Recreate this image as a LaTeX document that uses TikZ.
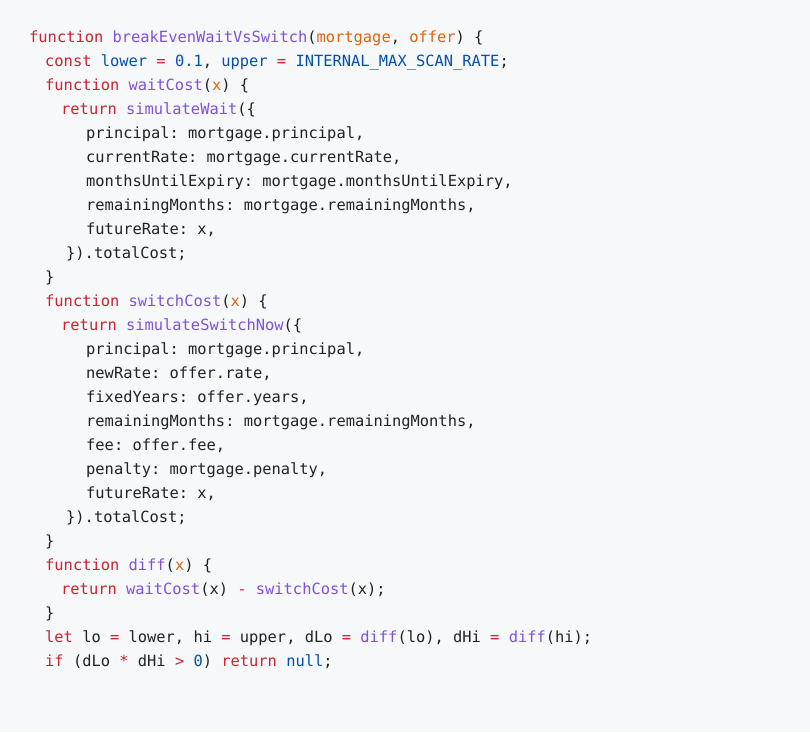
\documentclass[tikz,border=0pt]{standalone}
\usepackage{fontspec}
\setmonofont{DejaVu Sans Mono}
\definecolor{bg}{HTML}{F6F8FA}
\definecolor{tx}{HTML}{1F2328}
\definecolor{kw}{HTML}{CF222E}
\definecolor{fn}{HTML}{8250DF}
\definecolor{pa}{HTML}{E36209}
\definecolor{cn}{HTML}{0550AE}
\newcommand\K[1]{\textcolor{kw}{#1}}
\newcommand\F[1]{\textcolor{fn}{#1}}
\newcommand\PA[1]{\textcolor{pa}{#1}}
\newcommand\C[1]{\textcolor{cn}{#1}}
\begin{document}
\begin{tikzpicture}[x=1pt,y=-1pt,
  ln/.style={anchor=base west,inner sep=0pt,text=tx,font=\ttfamily\fontsize{15.4}{18}\selectfont}]
\fill[bg] (0,0) rectangle (810,732);
\useasboundingbox (0,0) rectangle (810,732);
\node[ln] (l1) at (29,42) {\K{function} \F{breakEvenWaitVsSwitch}(\PA{mortgage}, \PA{offer}) \{};
\node[ln] (l2) at (45,66) {\K{const} \C{lower} \K{=} \C{0.1}, \C{upper} \K{=} \C{INTERNAL\_MAX\_SCAN\_RATE};};
\node[ln] (l3) at (45,90) {\K{function} \F{waitCost}(\PA{x}) \{};
\node[ln] (l4) at (61,114) {\K{return} \F{simulateWait}(\{};
\node[ln] (l5) at (86,138) {principal: mortgage.principal,};
\node[ln] (l6) at (86,162) {currentRate: mortgage.currentRate,};
\node[ln] (l7) at (86,186) {monthsUntilExpiry: mortgage.monthsUntilExpiry,};
\node[ln] (l8) at (86,210) {remainingMonths: mortgage.remainingMonths,};
\node[ln] (l9) at (86,234) {futureRate: x,};
\node[ln] (l10) at (66,258) {\}).totalCost;};
\node[ln] (l11) at (45,282) {\}};
\node[ln] (l12) at (45,306) {\K{function} \F{switchCost}(\PA{x}) \{};
\node[ln] (l13) at (61,330) {\K{return} \F{simulateSwitchNow}(\{};
\node[ln] (l14) at (86,354) {principal: mortgage.principal,};
\node[ln] (l15) at (86,378) {newRate: offer.rate,};
\node[ln] (l16) at (86,402) {fixedYears: offer.years,};
\node[ln] (l17) at (86,426) {remainingMonths: mortgage.remainingMonths,};
\node[ln] (l18) at (86,450) {fee: offer.fee,};
\node[ln] (l19) at (86,474) {penalty: mortgage.penalty,};
\node[ln] (l20) at (86,498) {futureRate: x,};
\node[ln] (l21) at (66,522) {\}).totalCost;};
\node[ln] (l22) at (45,546) {\}};
\node[ln] (l23) at (45,570) {\K{function} \F{diff}(\PA{x}) \{};
\node[ln] (l24) at (61,594) {\K{return} \F{waitCost}(x) \K{-} \F{switchCost}(x);};
\node[ln] (l25) at (45,618) {\}};
\node[ln] (l26) at (45,642) {\K{let} lo \K{=} lower, hi \K{=} upper, dLo \K{=} \F{diff}(lo), dHi \K{=} \F{diff}(hi);};
\node[ln] (l27) at (45,666) {\K{if} (dLo \K{*} dHi \K{>} \C{0}) \K{return} \C{null};};
\end{tikzpicture}
\end{document}
